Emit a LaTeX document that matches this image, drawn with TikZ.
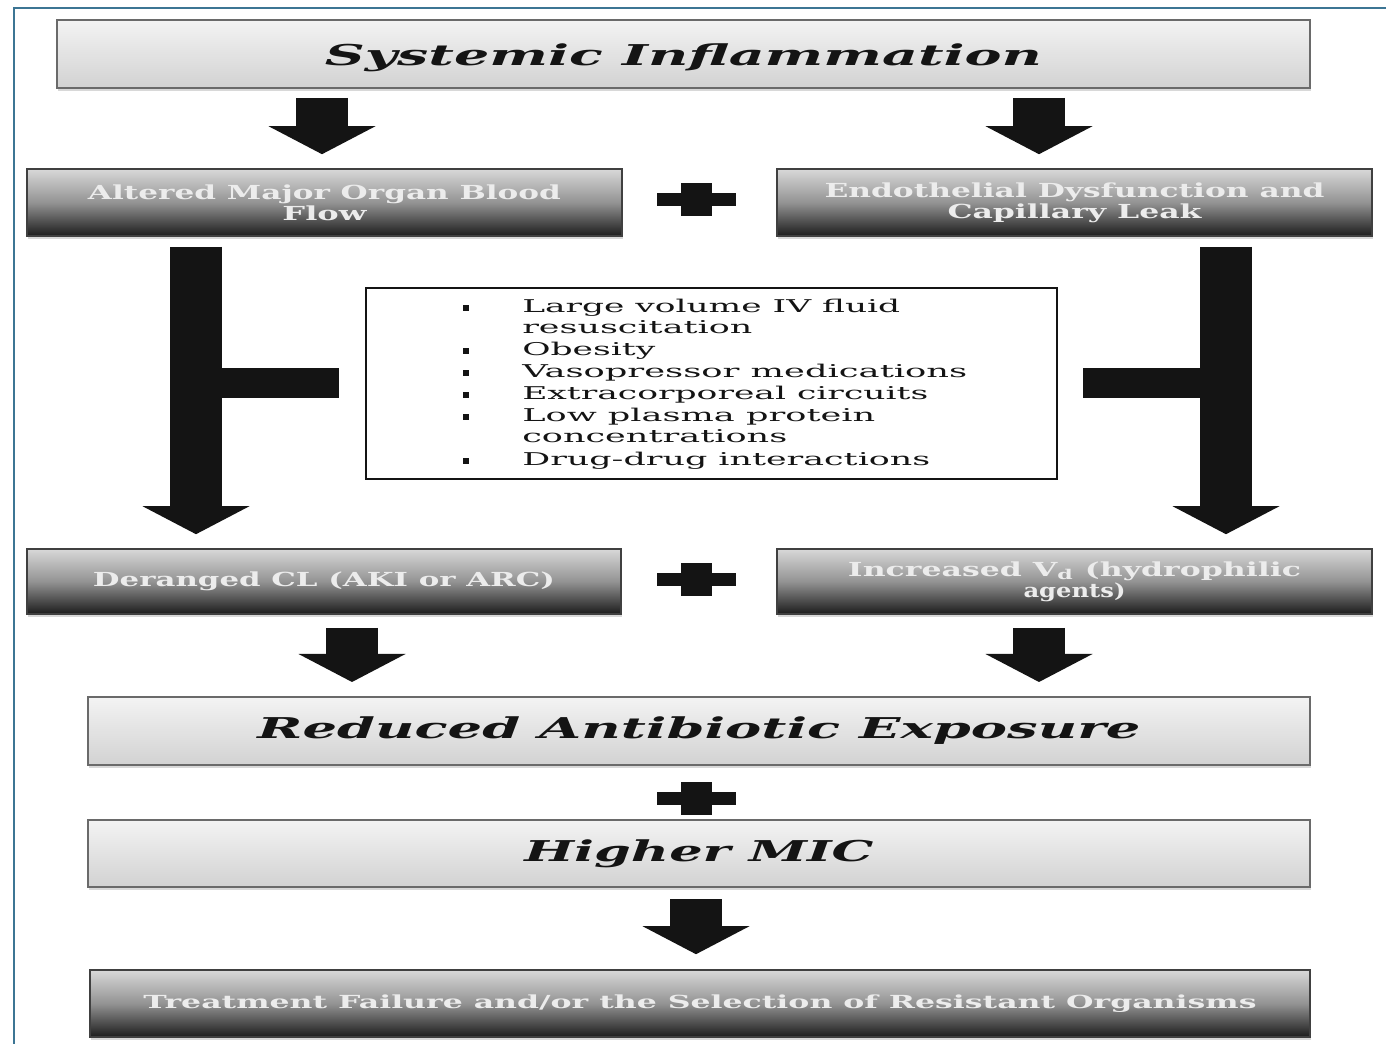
\documentclass[tikz,border=0pt]{standalone}
\usepackage{fontspec}
\setmainfont{DejaVu Serif}
\usetikzlibrary{arrows.meta,calc,shadows}
\newlength\px \setlength\px{0.75pt}
\newcommand\fitw[2]{\resizebox{#1\px}{\height}{#2}}
\definecolor{framecol}{HTML}{3C7594}
\definecolor{ink}{HTML}{141414}
\definecolor{lighttop}{HTML}{F3F3F3}
\definecolor{lightbot}{HTML}{D2D2D2}
\definecolor{boxline}{HTML}{6A6A6A}
\definecolor{darktop}{HTML}{D8D8D8}
\definecolor{darkmid}{HTML}{939393}
\definecolor{darkbot}{HTML}{1C1C1C}
\definecolor{darktext}{HTML}{ECECEC}
\begin{document}
\begin{tikzpicture}[x=0.75pt,y=-0.75pt,
  lightbox/.style={rectangle, draw=boxline, line width=1.5pt,
    top color=lighttop, bottom color=lightbot, inner sep=0pt, text=ink,
    font=\fontsize{21.5}{24}\selectfont\bfseries\itshape,
    drop shadow={shadow xshift=1pt, shadow yshift=-2pt, opacity=0.3}},
  darkbox/.style={rectangle, draw=black!75, line width=1.2pt,
    top color=darktop, bottom color=darkbot, middle color=darkmid,
    inner sep=0pt, text=darktext, align=center,
    font=\fontsize{14.5}{16}\selectfont\bfseries,
    drop shadow={shadow xshift=1pt, shadow yshift=-2pt, opacity=0.3}},
  blockarrow/.style={draw=ink, line width=39pt,
    -{Triangle[width=80.25pt,length=21pt,line width=0pt]}},
  tbar/.style={draw=ink, line width=22.5pt},
  bullettext/.style={anchor=base west, inner sep=0pt, text=ink,
    font=\fontsize{13.2}{14}\selectfont},
  bulletmark/.style={fill=ink, inner sep=0pt, minimum width=5pt, minimum height=4pt},
  plussign/.pic={\fill[ink] (-39.5,-6.5) rectangle (39.5,6.5);
                 \fill[ink] (-15.5,-16.5) rectangle (15.5,16.5);}
]
\fill[white] (0,0) rectangle (1386,1044);
\useasboundingbox (0,0) rectangle (1386,1044);
\draw[framecol, line width=1.5pt] (14,1044) -- (14,8) -- (1386,8);

% boxes
\node[lightbox, minimum width=1253\px, minimum height=68\px, text height=21pt, text depth=3pt]
  (sys) at (683.5,54) {\fitw{717}{Systemic Inflammation}};
\node[darkbox, minimum width=595\px, minimum height=67\px] (alt) at (324.5,202.5)
  {\fitw{473}{Altered Major Organ Blood}\\\fitw{84}{Flow}};
\node[darkbox, minimum width=595\px, minimum height=67\px] (endo) at (1074.5,202.5)
  {\fitw{500}{Endothelial Dysfunction and}\\\fitw{254}{Capillary Leak}};
\node[draw=ink, line width=2.2pt, fill=white, minimum width=691\px, minimum height=191\px,
  inner sep=0pt] (list) at (711.5,383.5) {};
\node[darkbox, minimum width=594\px, minimum height=65\px] (der) at (324,581.5)
  {\fitw{462}{Deranged CL (AKI or ARC)}};
\node[darkbox, minimum width=595\px, minimum height=65\px] (inc) at (1074.5,581.5)
  {\fitw{453}{Increased V\textsubscript{d} (hydrophilic}\\\fitw{102}{agents)}};
\node[lightbox, minimum width=1222\px, minimum height=68\px] (red) at (699,731)
  {\fitw{883}{Reduced Antibiotic Exposure}};
\node[lightbox, minimum width=1222\px, minimum height=67\px] (mic) at (699,853.5)
  {\fitw{349}{Higher MIC}};
\node[darkbox, minimum width=1220\px, minimum height=67\px,
  font=\fontsize{13.5}{15}\selectfont\bfseries] (tf) at (700,1003.5)
  {\fitw{1113}{Treatment Failure and/or the Selection of Resistant Organisms}};

% bullet list
\node[bulletmark] (m1) at (466,308) {};
\node[bullettext] (t1) at (522,313) {\fitw{378}{Large volume IV fluid}};
\node[bullettext] (t2) at (522,334) {\fitw{230}{resuscitation}};
\node[bulletmark] (m2) at (466,351) {};
\node[bullettext] (t3) at (522,356) {\fitw{133}{Obesity}};
\node[bulletmark] (m3) at (466,373) {};
\node[bullettext] (t4) at (522,378) {\fitw{445}{Vasopressor medications}};
\node[bulletmark] (m4) at (466,395) {};
\node[bullettext] (t5) at (522,400) {\fitw{406}{Extracorporeal circuits}};
\node[bulletmark] (m5) at (466,417) {};
\node[bullettext] (t6) at (522,422) {\fitw{353}{Low plasma protein}};
\node[bullettext] (t7) at (522,443) {\fitw{265}{concentrations}};
\node[bulletmark] (m6) at (466,461) {};
\node[bullettext] (t8) at (522,466) {\fitw{408}{Drug-drug interactions}};

% arrows
\draw[blockarrow] ($(sys.south -| alt.north)+(-2.5,9)$) -- ($(alt.north)+(-2.5,-14)$);
\draw[blockarrow] ($(sys.south -| endo.north)+(-35.5,9)$) -- ($(endo.north)+(-35.5,-14)$);
\draw[blockarrow] ($(alt.south)+(-128.5,10)$) -- ($(der.north -| alt.south)+(-128.5,-14)$);
\draw[blockarrow] ($(endo.south)+(151.5,10)$) -- ($(inc.north -| endo.south)+(151.5,-14)$);
\draw[tbar] ($(list.west)+(-170,0)$) -- ($(list.west)+(-26,0)$);
\draw[tbar] ($(list.east)+(169,0)$) -- ($(list.east)+(25,0)$);
\draw[blockarrow] ($(der.south)+(28,13)$) -- ($(red.north -| der.south)+(28,-14)$);
\draw[blockarrow] ($(inc.south)+(-35.5,13)$) -- ($(red.north -| inc.south)+(-35.5,-14)$);
\draw[blockarrow] ($(mic.south)+(-3,11)$) -- ($(tf.north -| mic.south)+(-3,-15)$);

% plus signs
\pic at (696.5,199.5) {plussign};
\pic at (696,580) {plussign};
\pic at (696,798) {plussign};
\end{tikzpicture}
\end{document}
